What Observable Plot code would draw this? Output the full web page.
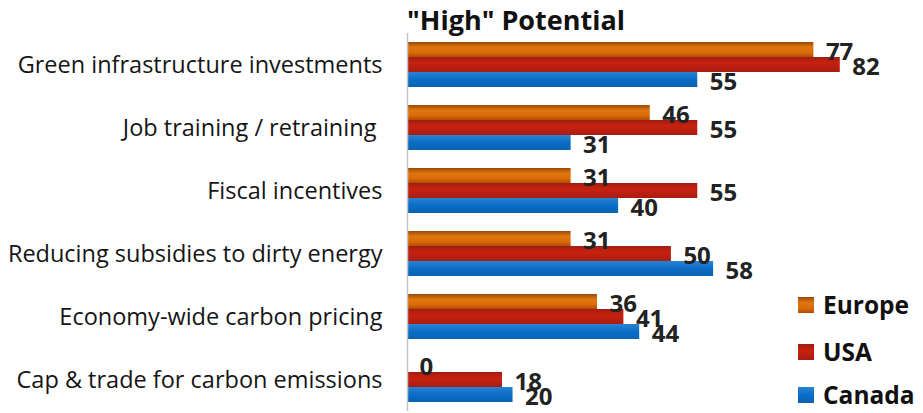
<!DOCTYPE html>
<html>
<head>
<meta charset="utf-8">
<script src="https://cdn.jsdelivr.net/npm/d3@7"></script>
<script src="https://cdn.jsdelivr.net/npm/@observablehq/plot@0.6"></script>
<style>
  html, body { margin: 0; padding: 0; background: #fff; }
  body { width: 923px; height: 413px; position: relative; overflow: hidden; font-family: "Open Sans", sans-serif; }
  #title { position: absolute; left: 407px; top: 2px; font-size: 27px; font-weight: bold; color: #111; line-height: 36px; }
  #chart { position: absolute; left: 0; top: 32px; }
  #legend { position: absolute; left: 798px; top: 0; }
  .item { position: absolute; left: 0; display: flex; align-items: center; white-space: nowrap; }
  .sw { width: 16px; height: 16px; margin-right: 9px; }
  .lab { font-size: 24.5px; font-weight: bold; color: #111; line-height: 30px; }
</style>
</head>
<body>
<svg width="0" height="0" style="position:absolute">
  <defs>
    <linearGradient id="gEurope" x1="0" y1="0" x2="0" y2="1">
      <stop offset="0%" stop-color="#9a4806"/>
      <stop offset="35%" stop-color="#e0760e"/>
      <stop offset="70%" stop-color="#dc6a08"/>
      <stop offset="100%" stop-color="#b04c04"/>
    </linearGradient>
    <linearGradient id="gUSA" x1="0" y1="0" x2="0" y2="1">
      <stop offset="0%" stop-color="#a01c12"/>
      <stop offset="40%" stop-color="#c8220e"/>
      <stop offset="100%" stop-color="#a81c12"/>
    </linearGradient>
    <linearGradient id="gCanada" x1="0" y1="0" x2="0" y2="1">
      <stop offset="0%" stop-color="#2a82d2"/>
      <stop offset="50%" stop-color="#0a6ec6"/>
      <stop offset="100%" stop-color="#0862b2"/>
    </linearGradient>
  </defs>
</svg>
<div id="title">"High" Potential</div>
<div id="chart"></div>
<div id="legend"></div>
<script>
const categories = [
  "Green infrastructure investments",
  "Job training / retraining ",
  "Fiscal incentives",
  "Reducing subsidies to dirty energy",
  "Economy-wide carbon pricing",
  "Cap & trade for carbon emissions"
];
const regions = ["Europe", "USA", "Canada"];
const europe = [77, 46, 31, 31, 36, 0];
const usa    = [82, 55, 55, 50, 41, 18];
const canada = [55, 31, 40, 58, 44, 20];

const gradients = {Europe: "url(#gEurope)", USA: "url(#gUSA)", Canada: "url(#gCanada)"};
const cssGrad = {
  Europe: "linear-gradient(#9a4806, #e0760e 35%, #dc6a08 70%, #b04c04)",
  USA: "linear-gradient(#a01c12, #c8220e 40%, #a81c12)",
  Canada: "linear-gradient(#2a82d2, #0a6ec6 50%, #0862b2)"
};

const series = {Europe: europe, USA: usa, Canada: canada};
const data = [];
categories.forEach((c, i) => {
  regions.forEach(r => data.push({category: c, region: r, value: series[r][i]}));
});

const barMarks = regions.map(r =>
  Plot.barX(data.filter(d => d.region === r), {
    x: "value", y: "region", fy: "category",
    fill: gradients[r],
    style: "filter: drop-shadow(1px 2px 1.5px rgba(0,0,0,0.28))"
  })
);

const chart = Plot.plot({
  width: 923,
  height: 380,
  marginLeft: 407,
  marginRight: 41,
  marginTop: 0,
  marginBottom: 0,
  style: {fontFamily: "Open Sans", color: "#111", background: "transparent", overflow: "visible"},
  x: {domain: [0, 90], axis: null},
  y: {domain: regions, paddingInner: 0, paddingOuter: 0.47, axis: null},
  fy: {domain: categories, padding: 0, label: null, axis: null},
  marks: [
    Plot.axisFy({anchor: "left", tickSize: 0, tickPadding: 25, fontSize: 23.5, label: null, fill: "#151515"}),
    ...barMarks,
    Plot.ruleX([0], {stroke: "#c4c4c4", strokeWidth: 1.5}),
    Plot.text(data, {
      x: "value", y: "region", fy: "category", text: d => String(d.value),
      dx: 12, dy: 2, textAnchor: "start", fontSize: 24, fontWeight: "bold", fill: "#222"
    })
  ]
});
document.getElementById("chart").appendChild(chart);

const legend = document.getElementById("legend");
const legendTops = [290, 337, 380];
regions.forEach((r, i) => {
  const item = document.createElement("div");
  item.className = "item";
  item.style.top = legendTops[i] + "px";
  const sw = document.createElement("div");
  sw.className = "sw";
  sw.style.background = cssGrad[r];
  const lab = document.createElement("div");
  lab.className = "lab";
  lab.textContent = r;
  item.appendChild(sw);
  item.appendChild(lab);
  legend.appendChild(item);
});
</script>
</body>
</html>
